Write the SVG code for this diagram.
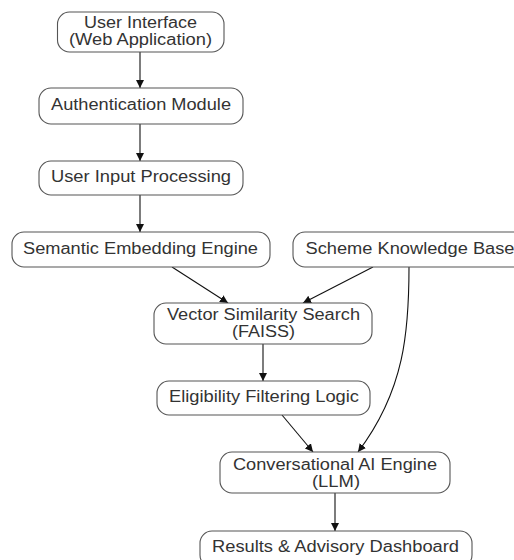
<svg xmlns="http://www.w3.org/2000/svg" width="514" height="560" viewBox="0 0 514 560">
<defs>
<style>
.box{fill:#fff;stroke:#555;stroke-width:1.1}
.t{font-family:"Liberation Sans",Arial,sans-serif;font-size:16px;fill:#333;text-anchor:middle}
.e{fill:none;stroke:#111;stroke-width:1.1}
</style>
<marker id="ah" viewBox="0 0 10 10" refX="10" refY="5" markerWidth="8" markerHeight="8" markerUnits="userSpaceOnUse" orient="auto">
<path d="M0,0 L10,5 L0,10 z" fill="#111"/>
</marker>
</defs>
<rect width="514" height="560" fill="#fff"/>
<g id="edges">
<path class="e" d="M140,52 L140,88" marker-end="url(#ah)"/>
<path class="e" d="M140,124 L140,161" marker-end="url(#ah)"/>
<path class="e" d="M140,195 L140,232" marker-end="url(#ah)"/>
<path class="e" d="M172,267 L228,303" marker-end="url(#ah)"/>
<path class="e" d="M373,267 L303,303" marker-end="url(#ah)"/>
<path class="e" d="M409,267 C409,330 405,390 358,452" marker-end="url(#ah)"/>
<path class="e" d="M263,344 L263,381" marker-end="url(#ah)"/>
<path class="e" d="M282,415 L313,452" marker-end="url(#ah)"/>
<path class="e" d="M335,493 L335,531" marker-end="url(#ah)"/>
</g>
<g id="n1"><rect class="box" x="57.5" y="12" width="166.5" height="40" rx="12"/>
<text class="t" x="140.5" y="28" textLength="113" lengthAdjust="spacingAndGlyphs">User Interface</text>
<text class="t" x="140.5" y="45" textLength="143" lengthAdjust="spacingAndGlyphs">(Web Application)</text></g>
<g id="n2"><rect class="box" x="39" y="88" width="204" height="36" rx="12"/>
<text class="t" x="141" y="110" textLength="180" lengthAdjust="spacingAndGlyphs">Authentication Module</text></g>
<g id="n3"><rect class="box" x="39" y="161" width="204" height="34" rx="12"/>
<text class="t" x="141" y="182" textLength="180" lengthAdjust="spacingAndGlyphs">User Input Processing</text></g>
<g id="n4"><rect class="box" x="12" y="232" width="258" height="35" rx="12"/>
<text class="t" x="140.5" y="254" textLength="235" lengthAdjust="spacingAndGlyphs">Semantic Embedding Engine</text></g>
<g id="n5"><rect class="box" x="293" y="232" width="234" height="35" rx="12"/>
<text class="t" x="410" y="254" textLength="209" lengthAdjust="spacingAndGlyphs">Scheme Knowledge Base</text></g>
<g id="n6"><rect class="box" x="154" y="303" width="218" height="41" rx="12"/>
<text class="t" x="263.5" y="320" textLength="193" lengthAdjust="spacingAndGlyphs">Vector Similarity Search</text>
<text class="t" x="263.5" y="337" textLength="63" lengthAdjust="spacingAndGlyphs">(FAISS)</text></g>
<g id="n7"><rect class="box" x="157" y="381" width="213" height="34" rx="12"/>
<text class="t" x="264" y="402" textLength="190" lengthAdjust="spacingAndGlyphs">Eligibility Filtering Logic</text></g>
<g id="n8"><rect class="box" x="220" y="452" width="230" height="41" rx="12"/>
<text class="t" x="335" y="470" textLength="204" lengthAdjust="spacingAndGlyphs">Conversational AI Engine</text>
<text class="t" x="336" y="487" textLength="48" lengthAdjust="spacingAndGlyphs">(LLM)</text></g>
<g id="n9"><rect class="box" x="200" y="531" width="272" height="36" rx="12"/>
<text class="t" x="335.5" y="552" textLength="247" lengthAdjust="spacingAndGlyphs">Results &amp; Advisory Dashboard</text></g>
</svg>
